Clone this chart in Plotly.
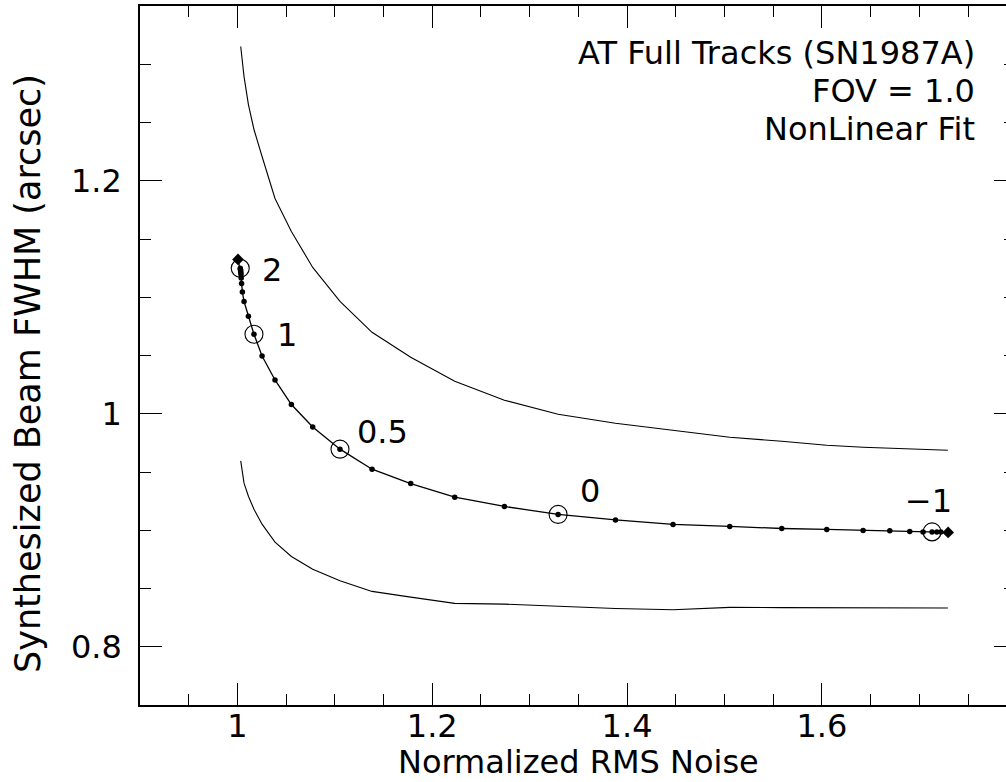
import plotly.graph_objects as go

# ---- data ----
robust = [2.0, 1.9, 1.8, 1.7, 1.6, 1.5, 1.4, 1.3, 1.2, 1.1, 1.0, 0.9, 0.8, 0.7, 0.6,
          0.5, 0.4, 0.3, 0.2, 0.1, 0.0, -0.1, -0.2, -0.3, -0.4, -0.5, -0.6, -0.7,
          -0.8, -0.9, -1.0, -1.5, -2.0]
noise = [1.0029, 1.0031, 1.0033, 1.0035, 1.0037, 1.0039, 1.0043, 1.0051, 1.0068,
         1.0113, 1.0170, 1.0253, 1.0386, 1.0554, 1.0773, 1.1053, 1.1382, 1.1779,
         1.2231, 1.2741, 1.3292, 1.3881, 1.4472, 1.5054, 1.5588, 1.6050, 1.6423,
         1.6697, 1.6902, 1.7039, 1.7131, 1.7180, 1.7221]
fwhm = [1.1248, 1.1239, 1.1229, 1.1215, 1.1196, 1.1166, 1.1117, 1.1044, 1.0963,
        1.0836, 1.0682, 1.0496, 1.0290, 1.0079, 0.9887, 0.9696, 0.9524, 0.9401,
        0.9284, 0.9204, 0.9136, 0.9089, 0.9050, 0.9033, 0.9015, 0.9007, 0.8998,
        0.8995, 0.8990, 0.8986, 0.8986, 0.8984, 0.8984]

natural_pt = (1.0006, 1.1325)
uniform_pt = (1.7296, 0.8981)

labelled = [2.0, 1.0, 0.5, 0.0, -1.0]
label_text = ["2", "1", "0.5", "0", "\u22121"]
label_shift = [(32, -2), (33, -1), (43, 17), (32, 23), (-4, 31)]

env_x = [1.0034, 1.0068, 1.0113, 1.0170, 1.0253, 1.0386, 1.0554, 1.0773, 1.1053,
         1.1382, 1.1779, 1.2231, 1.2741, 1.3292, 1.3881, 1.4472, 1.5054, 1.5588,
         1.6050, 1.6423, 1.6697, 1.7293]
upper_fwhm = [1.3152, 1.2894, 1.2654, 1.2440, 1.2208, 1.1848, 1.1565, 1.1256, 1.0965,
              1.0699, 1.0485, 1.0279, 1.0116, 0.9996, 0.9918, 0.9858, 0.9798, 0.9764,
              0.9730, 0.9713, 0.9704, 0.9687]
lower_fwhm = [0.9595, 0.9404, 0.9292, 0.9181, 0.9052, 0.8898, 0.8775, 0.8666, 0.8566,
              0.8475, 0.8426, 0.8372, 0.8366, 0.8345, 0.8328, 0.8317, 0.8338, 0.8336,
              0.8335, 0.8334, 0.8333, 0.8332]

info_lines = ["AT Full Tracks (SN1987A)", "FOV = 1.0", "NonLinear Fit"]
x_title = "Normalized RMS Noise"
y_title = "Synthesized Beam FWHM (arcsec)"

FONT = "DejaVu Sans"
FS = 32

W, H = 1006, 782
L, R, T, B = 140, 0, 6, 77
PW, PH = W - L - R, H - T - B


def paper_x(px):
    return (px - L) / PW


def paper_y(py):
    return (H - B - py) / PH


fig = go.Figure()

for ys in (upper_fwhm, lower_fwhm):
    fig.add_trace(go.Scatter(x=env_x, y=ys, mode="lines",
                             line=dict(color="black", width=1.1), showlegend=False))

line_x = [natural_pt[0]] + noise + [uniform_pt[0]]
line_y = [natural_pt[1]] + fwhm + [uniform_pt[1]]
fig.add_trace(go.Scatter(x=line_x, y=line_y, mode="lines",
                         line=dict(color="black", width=1.3), showlegend=False))
fig.add_trace(go.Scatter(x=noise, y=fwhm, mode="markers",
                         marker=dict(color="black", size=5.5), showlegend=False))
fig.add_trace(go.Scatter(x=[natural_pt[0], uniform_pt[0]], y=[natural_pt[1], uniform_pt[1]],
                         mode="markers",
                         marker=dict(color="black", size=9, symbol="diamond"),
                         showlegend=False))

cx = [noise[robust.index(r)] for r in labelled]
cy = [fwhm[robust.index(r)] for r in labelled]
fig.add_trace(go.Scatter(x=cx, y=cy, mode="markers",
                         marker=dict(symbol="circle-open", size=18,
                                     line=dict(color="black", width=1.1), color="black"),
                         showlegend=False))

fig.add_trace(go.Scatter(x=[1.0], y=[1.0], yaxis="y2", mode="markers",
                         marker=dict(opacity=0), showlegend=False, hoverinfo="skip"))

tfont = dict(family=FONT, size=FS, color="black")
ann = []
for x, y, t, (dx, dy) in zip(cx, cy, label_text, label_shift):
    ann.append(dict(x=x, y=y, xref="x", yref="y", text=t, showarrow=False,
                    xshift=dx, yshift=dy, font=tfont))

for i, t in enumerate(info_lines):
    ann.append(dict(x=paper_x(977), y=paper_y(53 + 38 * i), xref="paper", yref="paper",
                    text=t, showarrow=False, xanchor="right", yanchor="middle",
                    font=tfont))

ann.append(dict(x=paper_x(578), y=paper_y(762), xref="paper", yref="paper",
                text=x_title, showarrow=False, xanchor="center", yanchor="middle",
                font=tfont))
ann.append(dict(x=paper_x(28), y=paper_y(374), xref="paper", yref="paper",
                text=y_title, showarrow=False, xanchor="center", yanchor="middle",
                textangle=-90, font=dict(family=FONT, size=35, color="black")))

tick_common = dict(showgrid=False, zeroline=False, ticks="inside", ticklen=22,
                   tickwidth=1.3, tickcolor="black", tickformat="~g",
                   tickfont=dict(family=FONT, size=FS, color="black"))

fig.update_layout(
    width=W, height=H,
    margin=dict(l=L, r=R, t=T, b=B, pad=0),
    paper_bgcolor="white", plot_bgcolor="white",
    showlegend=False,
    font=dict(family=FONT, size=FS, color="black"),
    xaxis=dict(range=[0.9, 1.789], showline=True, linecolor="black", linewidth=1.5,
               mirror="ticks", tick0=1.0, dtick=0.2, ticklabelstandoff=-8,
               minor=dict(dtick=0.05, tick0=1.0, ticks="inside", ticklen=11,
                          tickwidth=1.3, tickcolor="black", showgrid=False),
               **tick_common),
    yaxis=dict(range=[0.75, 1.35], showline=True, linecolor="black", linewidth=1.5,
               tick0=0.8, dtick=0.2, ticklabelstandoff=10,
               minor=dict(dtick=0.05, tick0=0.8, ticks="inside", ticklen=11,
                          tickwidth=1.3, tickcolor="black", showgrid=False),
               **tick_common),
    yaxis2=dict(range=[0.75, 1.35], overlaying="y", side="right", showgrid=False,
                zeroline=False, showline=False, showticklabels=False,
                ticks="inside", ticklen=12, tickwidth=1.3, tickcolor="black",
                tick0=0.8, dtick=0.2,
                minor=dict(dtick=0.05, tick0=0.8, ticks="inside", ticklen=2,
                           tickwidth=1.3, tickcolor="black", showgrid=False)),
    annotations=ann,
)

fig.write_html("out.html")
